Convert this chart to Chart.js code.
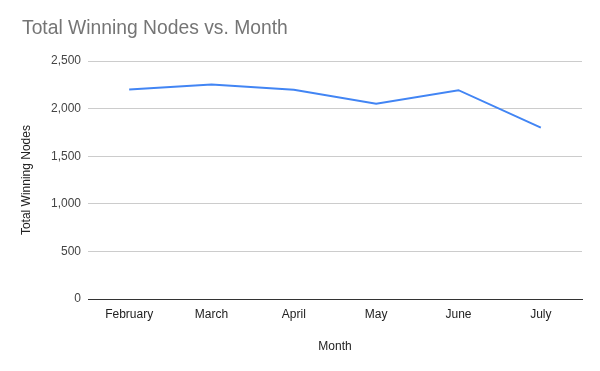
<!DOCTYPE html>
<html>
<head>
<meta charset="utf-8">
<script src="https://cdn.jsdelivr.net/npm/chart.js@4"></script>
<style>
  html, body { margin: 0; padding: 0; background: #fff; }
  #wrap { width: 600px; height: 371px; }
</style>
</head>
<body>
<div id="wrap"><canvas id="nodesChart"></canvas></div>
<script>
// Chart data
const months = ['February', 'March', 'April', 'May', 'June', 'July'];
const winningNodes = [2202, 2255, 2199, 2052, 2195, 1802];
const yTicks = [0, 500, 1000, 1500, 2000, 2500];

const fontFamily = '"Liberation Sans", Arial, sans-serif';

const ctx = document.getElementById('nodesChart').getContext('2d');
new Chart(ctx, {
    type: 'line',
    data: {
        labels: months,
        datasets: [{
            label: 'Total Winning Nodes',
            data: winningNodes,
            borderColor: '#4285f4',
            backgroundColor: '#4285f4',
            borderWidth: 2,
            pointRadius: 0,
            tension: 0,
            fill: false
        }]
    },
    options: {
        responsive: true,
        maintainAspectRatio: false,
        animation: false,
        layout: { padding: { left: 22, right: 18, top: 0, bottom: 0 } },
        plugins: {
            legend: { display: false },
            tooltip: { enabled: false },
            title: {
                display: true,
                text: 'Total Winning Nodes vs. Month',
                align: 'start',
                color: '#757575',
                font: { family: fontFamily, size: 19.3, weight: 'normal' },
                padding: { top: 17, bottom: 21 }
            }
        },
        scales: {
            x: {
                offset: true,
                grid: { display: false, drawTicks: false },
                border: { display: true, color: '#333333', width: 1 },
                ticks: {
                    color: '#222222',
                    padding: 8,
                    maxRotation: 0,
                    font: { family: fontFamily, size: 12 }
                },
                title: {
                    display: true,
                    text: 'Month',
                    color: '#222222',
                    font: { family: fontFamily, size: 12 },
                    padding: { top: 0, bottom: 17 }
                },
                afterFit: scale => { scale.height = 72; }
            },
            y: {
                min: 0,
                max: 2500,
                afterBuildTicks: scale => { scale.ticks = yTicks.map(v => ({ value: v })); },
                grid: {
                    drawTicks: false,
                    color: c => (c.tick && c.tick.value === 0 ? '#333333' : '#cccccc')
                },
                border: { display: false },
                ticks: {
                    color: '#444444',
                    padding: 7,
                    font: { family: fontFamily, size: 12 },
                    callback: v => v.toLocaleString('en-US')
                },
                title: {
                    display: true,
                    text: 'Total Winning Nodes',
                    color: '#222222',
                    font: { family: fontFamily, size: 12 },
                    padding: { top: -3, bottom: 0 }
                },
                afterFit: scale => { scale.width = 66; }
            }
        }
    }
});
</script>
</body>
</html>
